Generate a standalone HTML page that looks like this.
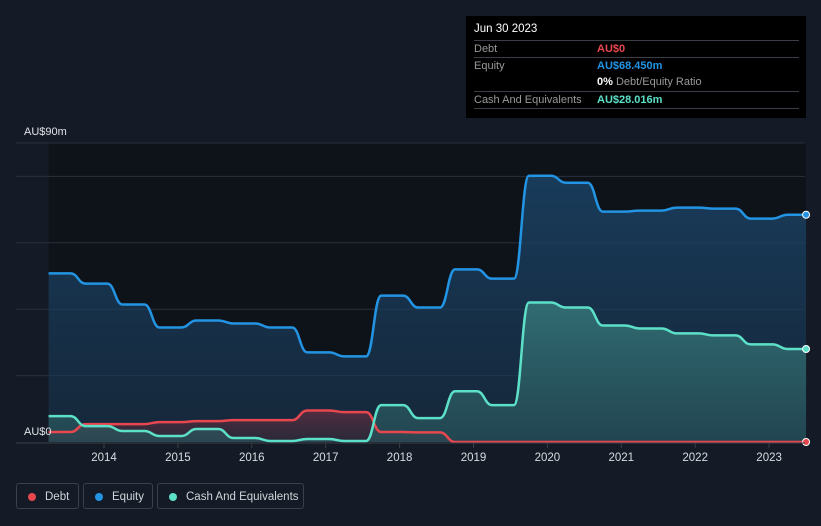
<!DOCTYPE html>
<html><head><meta charset="utf-8"><style>
body{margin:0;background:#151b26;width:821px;height:526px;overflow:hidden;font-family:"Liberation Sans",sans-serif}
#wrap{position:relative;width:821px;height:526px}
svg{position:absolute;left:0;top:0}
.tip{position:absolute;left:466px;top:16px;width:340px;height:102px;background:#000;color:#fff;font-size:11px}
.tip .row{position:absolute;left:8px;width:325px;border-top:1px solid #3a3f47;height:16px;line-height:16px}
.lg{position:absolute;top:483px;height:26px;border:1px solid #3b4049;border-radius:3px;color:#d0d4da;font-size:11.5px;line-height:26px;box-sizing:border-box}
.lg i{position:absolute;left:11px;top:9px;width:8px;height:8px;border-radius:50%}
</style></head><body><div id="wrap">
<svg id="chart" width="821" height="526"></svg>
<div class="tip">
<div style="position:absolute;left:8px;top:7px;font-size:11.5px">Jun 30 2023</div>
<div class="row" style="top:24px"><span style="color:#999">Debt</span><span style="position:absolute;left:123px;color:#e8474f;font-weight:bold">AU$0</span></div>
<div class="row" style="top:41px"><span style="color:#999">Equity</span><span style="position:absolute;left:123px;color:#2394e3;font-weight:bold">AU$68.450m</span></div>
<div class="row" style="top:58px;border-top:none"><span style="position:absolute;left:123px;color:#999"><b style="color:#fff">0%</b> Debt/Equity Ratio</span></div>
<div class="row" style="top:75px"><span style="color:#999">Cash And Equivalents</span><span style="position:absolute;left:123px;color:#5ce0c8;font-weight:bold">AU$28.016m</span></div>
<div class="row" style="top:92px;height:0"></div>
</div>
<div class="lg" style="left:16px;width:63px"><i style="background:#e8474f"></i><span style="position:absolute;left:28px">Debt</span></div>
<div class="lg" style="left:83px;width:70px"><i style="background:#2394e3"></i><span style="position:absolute;left:28px">Equity</span></div>
<div class="lg" style="left:157px;width:147px"><i style="background:#5ce0c8"></i><span style="position:absolute;left:28px">Cash And Equivalents</span></div>
</div>
<script>
const dates=[2013.25,2013.75,2014.25,2014.75,2015.25,2015.75,2016.25,2016.75,2017.25,2017.75,2018.25,2018.75,2019.25,2019.75,2020.25,2020.75,2021.25,2021.75,2022.25,2022.75,2023.25];
const endDate=2023.5;
const equity=[50.8,47.7,41.4,34.5,36.6,35.7,34.5,27.0,25.8,44.1,40.5,52.0,49.2,80.2,78.1,69.4,69.7,70.6,70.3,67.3,68.45];
const cash=[7.8,4.8,3.3,1.8,3.9,1.2,0.3,0.9,0.3,11.1,7.2,15.3,11.1,42.0,40.5,35.1,34.2,32.7,32.1,29.4,28.016];
const debt=[3.0,5.4,5.4,6.0,6.3,6.6,6.6,9.5,9.0,3.0,2.9,0,0,0,0,0,0,0,0,0,0];
const yearTicks=[2014,2015,2016,2017,2018,2019,2020,2021,2022,2023];
const gridVals=[20,40,60,80];
const NS='http://www.w3.org/2000/svg';
const svg=document.getElementById('chart');
const X=d=>104+(d-2014)*73.9;
const Y=v=>442-v*3.32;
function mk(t,a){const e=document.createElementNS(NS,t);for(const k in a)e.setAttribute(k,a[k]);svg.appendChild(e);return e;}
svg.innerHTML='<defs><linearGradient id="ge" x1="0" y1="0" x2="0" y2="1"><stop offset="0" stop-color="#1a4366" stop-opacity="0.85"/><stop offset="1" stop-color="#1a3550" stop-opacity="0.6"/></linearGradient><linearGradient id="gc" x1="0" y1="0" x2="0" y2="1"><stop offset="0" stop-color="#3a8080" stop-opacity="0.75"/><stop offset="1" stop-color="#2a5a60" stop-opacity="0.6"/></linearGradient><linearGradient id="gd" x1="0" y1="0" x2="0" y2="1"><stop offset="0" stop-color="#7a3040" stop-opacity="0.6"/><stop offset="1" stop-color="#4a2a38" stop-opacity="0.4"/></linearGradient></defs>';
const bg=mk('rect',{x:X(dates[0]),y:143,width:X(endDate)-X(dates[0]),height:299,fill:'#0e1219'});


mk('line',{x1:16,x2:805,y1:143,y2:143,stroke:'#2c323c','stroke-width':1});
gridVals.forEach(v=>{const l=mk('line',{x1:16,x2:805,y1:Y(v),y2:Y(v),stroke:'#2a313c','stroke-width':1});

});
function pathFor(vals){let d='M'+X(dates[0])+','+Y(vals[0]);
for(let i=1;i<vals.length;i++){const x1=X(dates[i])-15,x2=X(dates[i]);d+=' L'+x1+','+Y(vals[i-1])+' C'+(x1+7)+','+Y(vals[i-1])+' '+(x2-7)+','+Y(vals[i])+' '+x2+','+Y(vals[i]);}
d+=' L'+X(endDate)+','+Y(vals[vals.length-1]);return d;}
function area(vals,fill,name){
const p=pathFor(vals);
const a=mk('path',{d:p+' L'+X(endDate)+','+Y(0)+' L'+X(dates[0])+','+Y(0)+'Z',fill:fill});

}
function line(vals,color,name){
const l=mk('path',{d:pathFor(vals),fill:'none',stroke:color,'stroke-width':2.5});


const c=mk('circle',{cx:X(endDate),cy:Y(vals[vals.length-1]),r:3.5,fill:color,stroke:'#fff','stroke-width':1});

}
area(equity,'url(#ge)','equity');
area(debt,'url(#gd)','debt');
area(cash,'url(#gc)','cash');
line(debt,'#e8474f','debt');
line(equity,'#2394e3','equity');
line(cash,'#5ce0c8','cash');
mk('line',{x1:16,x2:805,y1:443,y2:443,stroke:'#3a404a','stroke-width':1});
yearTicks.forEach(yr=>{mk('line',{x1:X(yr),x2:X(yr),y1:443,y2:448,stroke:'#3a404a'});
const t=mk('text',{x:X(yr),y:461,'text-anchor':'middle',fill:'#d8dce2','font-size':11.5,'font-family':'Liberation Sans, sans-serif'});t.textContent=yr;

});
const t1=mk('text',{x:24,y:135,fill:'#e0e3e8','font-size':11,'font-family':'Liberation Sans, sans-serif'});t1.textContent='AU$90m';


const t0=mk('text',{x:24,y:435,fill:'#e0e3e8','font-size':11,'font-family':'Liberation Sans, sans-serif'});t0.textContent='AU$0';


</script></body></html>
